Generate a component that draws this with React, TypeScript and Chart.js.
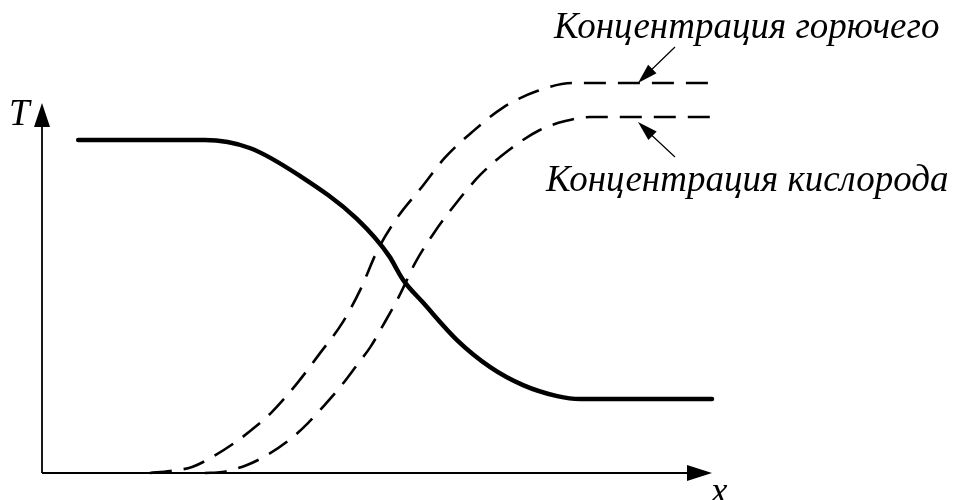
import React, { useEffect, useRef } from "react";
import { Chart, registerables } from "chart.js";

Chart.register(...registerables);

// Distance along the flame (arbitrary units)
const tempX = [0.54, 2.43, 3.1, 3.85, 4.7, 5.19, 5.3, 5.4, 5.69, 6.19, 6.69, 7.18, 7.69, 8.03, 10.0];
const tempY = [1.0, 1.0, 0.976, 0.892, 0.763, 0.649, 0.61, 0.577, 0.511, 0.4, 0.318, 0.264, 0.231, 0.222, 0.222];

const fuelX = [1.61, 1.91, 2.24, 2.54, 2.87, 3.18, 3.43, 3.81, 4.15, 4.48, 4.75, 5.01, 5.31, 5.67, 6.01, 6.42, 6.87, 7.39, 7.93, 10.0];
const fuelY = [0, 0.006, 0.018, 0.048, 0.09, 0.138, 0.183, 0.27, 0.36, 0.45, 0.55, 0.67, 0.769, 0.859, 0.946, 1.024, 1.096, 1.147, 1.171, 1.171];

const oxyX = [2.43, 2.69, 3.06, 3.36, 3.69, 3.97, 4.19, 4.45, 4.7, 4.9, 5.1, 5.34, 5.57, 5.84, 6.16, 6.54, 6.97, 7.43, 7.81, 8.18, 10.0];
const oxyY = [0, 0.003, 0.024, 0.054, 0.099, 0.15, 0.198, 0.258, 0.324, 0.378, 0.447, 0.535, 0.631, 0.718, 0.805, 0.895, 0.97, 1.03, 1.057, 1.069, 1.069];

const axisLabels = ["T", "x"];
const annotations = ["Концентрация горючего", "Концентрация кислорода"];

const zip = (xs: number[], ys: number[]) => xs.map((x, i) => ({ x, y: ys[i] }));

const FONT = "italic 37px 'Liberation Serif'";

function arrowHead(ctx: CanvasRenderingContext2D, tipX: number, tipY: number, fromX: number, fromY: number, len: number, half: number) {
  const a = Math.atan2(tipY - fromY, tipX - fromX);
  const bx = tipX - len * Math.cos(a);
  const by = tipY - len * Math.sin(a);
  const nx = -Math.sin(a);
  const ny = Math.cos(a);
  ctx.beginPath();
  ctx.moveTo(tipX, tipY);
  ctx.lineTo(bx + nx * half, by + ny * half);
  ctx.lineTo(bx - nx * half, by - ny * half);
  ctx.closePath();
  ctx.fill();
}

const decorPlugin = {
  id: "decor",
  beforeDatasetsDraw(chart: any) {
    const ctx = chart.ctx as CanvasRenderingContext2D;
    const xs = chart.scales.x;
    const ys = chart.scales.y;
    const ox = xs.getPixelForValue(0);
    const oy = ys.getPixelForValue(0);
    const xTip = xs.getPixelForValue(10);
    const yTip = ys.getPixelForValue(1.111);
    ctx.save();
    ctx.strokeStyle = "#000";
    ctx.fillStyle = "#000";
    ctx.lineWidth = 1.8;
    ctx.beginPath();
    ctx.moveTo(ox, oy);
    ctx.lineTo(xTip - 10, oy);
    ctx.moveTo(ox, oy);
    ctx.lineTo(ox, yTip + 10);
    ctx.stroke();
    arrowHead(ctx, xTip, oy, ox, oy, 25, 8);
    arrowHead(ctx, ox, yTip, ox, oy, 24, 8);
    ctx.restore();
  },
  afterDatasetsDraw(chart: any) {
    const ctx = chart.ctx as CanvasRenderingContext2D;
    ctx.save();
    ctx.fillStyle = "#000";
    ctx.strokeStyle = "#000";
    ctx.font = FONT + ", 'Times New Roman', serif";
    ctx.textBaseline = "alphabetic";
    ctx.textAlign = "left";
    ctx.fillText(axisLabels[0], 9, 125);
    ctx.fillText(axisLabels[1], 711, 503);
    ctx.fillText(annotations[0], 554, 38);
    ctx.fillText(annotations[1], 546, 191);
    // pointer arrows
    ctx.lineWidth = 1.2;
    ctx.beginPath();
    ctx.moveTo(675, 47);
    ctx.lineTo(645, 76);
    ctx.moveTo(675, 157);
    ctx.lineTo(645, 129);
    ctx.stroke();
    arrowHead(ctx, 638, 83, 675, 47, 20, 6);
    arrowHead(ctx, 638, 122, 675, 157, 20, 6);
    ctx.restore();
  },
};

export default function App() {
  const ref = useRef<HTMLCanvasElement | null>(null);
  useEffect(() => {
    if (!ref.current) return;
    let chart: Chart | null = null;
    let cancelled = false;
    const build = () => {
      if (cancelled || !ref.current) return;
      chart = new Chart(ref.current, {
        type: "line",
        data: {
          datasets: [
            {
              label: "T",
              data: zip(tempX, tempY),
              borderColor: "#000",
              borderWidth: 4.5,
              borderCapStyle: "round",
              pointRadius: 0,
              cubicInterpolationMode: "monotone",
              clip: false,
            },
            {
              label: annotations[0],
              data: zip(fuelX, fuelY),
              borderColor: "#000",
              borderWidth: 2.6,
              borderDash: [22, 12],
              pointRadius: 0,
              cubicInterpolationMode: "monotone",
              clip: false,
            },
            {
              label: annotations[1],
              data: zip(oxyX, oxyY),
              borderColor: "#000",
              borderWidth: 2.6,
              borderDash: [22, 12],
              pointRadius: 0,
              cubicInterpolationMode: "monotone",
              clip: false,
            },
          ],
        },
        options: {
          responsive: false,
          animation: false,
          layout: { padding: { left: 42, right: 245, top: 73.4, bottom: 27 } },
          plugins: { legend: { display: false }, tooltip: { enabled: false } },
          scales: {
            x: { type: "linear", min: 0, max: 10, display: false },
            y: { type: "linear", min: 0, max: 1.2, display: false },
          },
        },
        plugins: [decorPlugin],
      } as any);
    };
    const fontsApi = (document as any).fonts;
    if (fontsApi && fontsApi.load) {
      fontsApi.load(FONT, "КонцентрацияTx").then(build, build);
    } else {
      build();
    }
    return () => {
      cancelled = true;
      if (chart) chart.destroy();
    };
  }, []);
  return (
    <div style={{ position: "absolute", left: 0, top: 0, width: 957, height: 500, background: "#fff" }}>
      <canvas ref={ref} width={957} height={500} />
    </div>
  );
}
